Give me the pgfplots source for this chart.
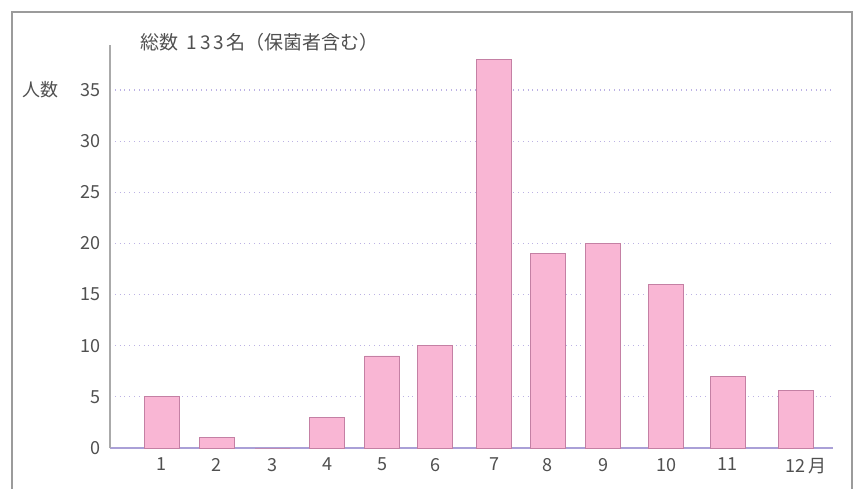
\documentclass[border=0pt]{standalone}
\usepackage{fontspec}
\setmainfont{Noto Sans CJK JP}
\usepackage{pgfplots}
\pgfplotsset{compat=1.18}
\definecolor{barpink}{RGB}{249,182,212}
\definecolor{baredge}{RGB}{196,128,164}
\definecolor{gridlav}{RGB}{188,178,228}
\definecolor{baseline}{RGB}{170,160,215}
\definecolor{yaxisgray}{RGB}{170,170,170}
\definecolor{txt}{RGB}{80,80,80}
\definecolor{framegray}{RGB}{155,155,155}
\begin{document}
\begin{tikzpicture}[x=1pt,y=1pt]
\useasboundingbox (0,0) rectangle (427.5,244);
% outer frame (open at the bottom edge)
\draw[framegray, line width=0.7pt] (6,-2) -- (6,238) -- (426,238) -- (426,-2);
\begin{axis}[
  at={(55pt,20pt)}, anchor=south west, scale only axis,
  width=361.5pt, height=201.5pt,
  % the month columns sit at hand-spaced positions along the axis
  xmin=110, xmax=833, ymin=0, ymax=39.4,
  axis x line=bottom, axis y line=left,
  axis line style={-},
  x axis line style={draw=baseline, line width=0.6pt},
  y axis line style={draw=yaxisgray, line width=0.6pt},
  ybar, bar width=17.5pt,
  xtick=data,
  xticklabels={1,2,3,4,5,6,7,8,9,10,11,12\makebox[0pt][l]{\,月}},
  ytick={0,5,10,15,20,25,30,35},
  ymajorgrids,
  grid style={gridlav, dotted, line width=0.6pt},
  major tick length=0pt,
  tick label style={font=\fontsize{9}{10}\selectfont, text=txt},
  yticklabel style={xshift=-1pt},
  xticklabel style={yshift=-1.5pt},
  /pgf/number format/assume math mode=true,
  clip=false,
]
\addplot[fill=barpink, draw=baredge, line width=0.4pt] coordinates {
  (161.5,5) (216.5,1) (272.5,0) (327,3) (382,9) (435,10)
  (494,38) (547.5,19) (603,20) (666,16) (727.5,7) (795.5,5.6)
};
\end{axis}
\node[anchor=west, font=\fontsize{9.5}{10}\selectfont, text=txt, inner sep=0pt]
  at (70,223) {総数\hspace{4pt}1\kern1.6pt 3\kern1.6pt 3\kern1pt 名（保菌者含む）};
\node[anchor=west, font=\fontsize{9}{10}\selectfont, text=txt, inner sep=0pt]
  at (11,199) {人数};
\end{tikzpicture}
\end{document}
